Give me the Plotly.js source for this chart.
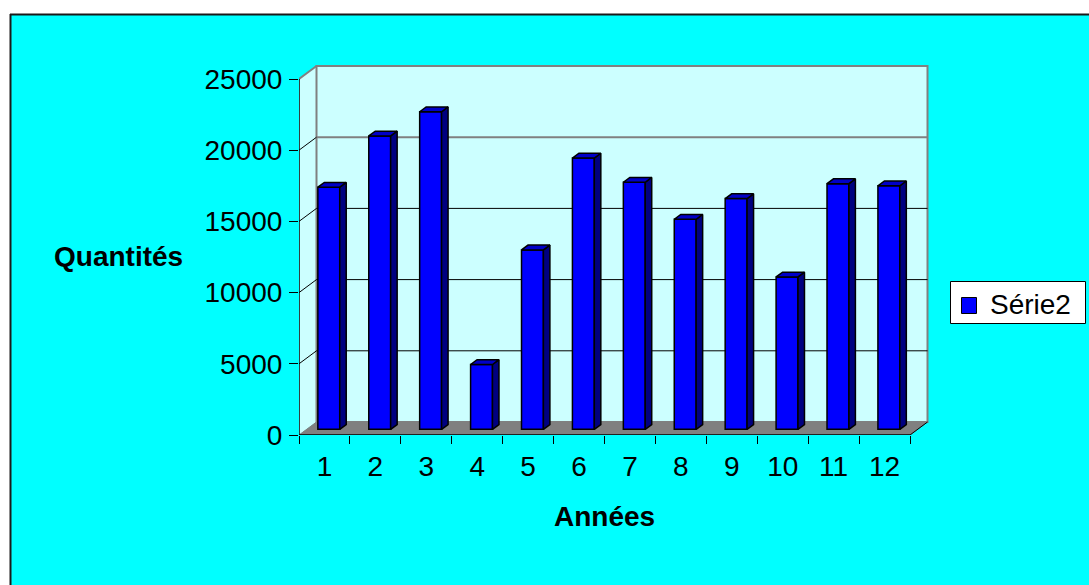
<!DOCTYPE html>
<html>
<head>
<meta charset="utf-8">
<script src="https://cdn.plot.ly/plotly-3.0.1.min.js"></script>
<style>html,body{margin:0;padding:0;background:#fff;}#chart{width:1089px;height:585px;}</style>
</head>
<body>
<div id="chart"></div>
<script>
// ---- data ----
const categories = [1, 2, 3, 4, 5, 6, 7, 8, 9, 10, 11, 12];
const tickLabels = ['1','2','3','4','5','6','7','8','9','10','11','12'];
const values = [17000, 20600, 22300, 4550, 12600, 19050, 17350, 14750, 16200, 10700, 17250, 17100];
const yTicks = [0, 5000, 10000, 15000, 20000, 25000];
const seriesName = 'Série2';

// ---- layout geometry ----
const L = 299, R = 159, T = 62, B = 150, WW = 1089, HH = 585;
const PW = WW - L - R, PH = HH - T - B;
const pxPerX = 611 / 12;          // px per category
const pxPerY = 356 / 25000;       // px per unit
const xmin = 0.5, xmax = 0.5 + PW / pxPerX;
const ymax = PH / pxPerY;
const DX = 17.5 / pxPerX, DY = 13 / pxPerY;        // wall depth
const OFF = 0.085, BW = 0.43;                      // bar offset/width
const BASE = 5.7 / pxPerY;                         // bar base depth
const DDX = 6.5 / pxPerX, DDY = 4.8 / pxPerY;      // bar depth
const px = v => (v - L) / PW;
const py = v => (HH - B - v) / PH;

const FONT = 'Arial, "Liberation Sans", sans-serif';
const FS = 28;

// ---- traces ----
const bars = {
  type: 'bar', name: seriesName, showlegend: false,
  x: categories.map(c => c + OFF), y: values, base: values.map(() => BASE),
  width: BW,
  marker: {color: '#0000FF', line: {color: '#000000', width: 1.5}},
  hoverinfo: 'skip'
};
const sx = [], sy = [], tx = [], ty = [];
categories.forEach((c, i) => {
  const xl = c + OFF - BW / 2, xr = c + OFF + BW / 2, top = BASE + values[i];
  sx.push(xr, xr + DDX, xr + DDX, xr, xr, null);
  sy.push(BASE, BASE + DDY, top + DDY, top, BASE, null);
  tx.push(xl, xr, xr + DDX, xl + DDX, xl, null);
  ty.push(top, top, top + DDY, top + DDY, top, null);
});
const sides = {type: 'scatter', mode: 'lines', x: sx, y: sy, fill: 'toself', fillcolor: '#000080',
  line: {color: '#000000', width: 1.5}, showlegend: false, hoverinfo: 'skip'};
const tops = {type: 'scatter', mode: 'lines', x: tx, y: ty, fill: 'toself', fillcolor: '#0000C8',
  line: {color: '#000000', width: 1.5}, showlegend: false, hoverinfo: 'skip'};

// ---- walls / floor ----
const x0 = 0.5, x1 = 12.5;
const shapes = [];
shapes.push({type: 'path', xref: 'x', yref: 'y', layer: 'below',
  path: `M${x0},0 L${x0},25000 L${x0 + DX},${25000 + DY} L${x0 + DX},${DY} Z`,
  fillcolor: '#CCFFFF', line: {width: 0}});
shapes.push({type: 'rect', xref: 'x', yref: 'y', layer: 'below',
  x0: x0 + DX, x1: x1 + DX, y0: DY, y1: 25000 + DY,
  fillcolor: '#CCFFFF', line: {color: '#808080', width: 2}});
shapes.push({type: 'path', xref: 'x', yref: 'y', layer: 'below',
  path: `M${x0},0 L${x1},0 L${x1 + DX},${DY} L${x0 + DX},${DY} Z`,
  fillcolor: '#808080', line: {color: '#808080', width: 1}});
yTicks.forEach(v => {
  if (v > 0 && v < 25000) {
    const col = v === 20000 ? '#808080' : '#000000';
    const w = v === 20000 ? 2 : 1;
    shapes.push({type: 'line', xref: 'x', yref: 'y', layer: 'below',
      x0: x0 + DX, x1: x1 + DX, y0: v + DY, y1: v + DY, line: {color: col, width: w}});
  }
  if (v > 0) {
    shapes.push({type: 'line', xref: 'x', yref: 'y', layer: 'below',
      x0: x0, x1: x0 + DX, y0: v, y1: v + DY,
      line: {color: v === 25000 ? '#808080' : '#000000', width: v === 25000 ? 2 : 1}});
  }
});
shapes.push({type: 'line', xref: 'x', yref: 'y', x0: x0, x1: x0, y0: 0, y1: 25000, line: {color: '#000', width: 1.5}});
shapes.push({type: 'line', xref: 'x', yref: 'y', x0: x0, x1: x1, y0: 0, y1: 0, line: {color: '#000', width: 1.5}});
shapes.push({type: 'line', xref: 'x', yref: 'y', x0: x1, x1: x1 + DX, y0: 0, y1: DY, line: {color: '#000', width: 1}});
// outer frame
shapes.push({type: 'rect', xref: 'paper', yref: 'paper', x0: px(0), x1: px(WW), y0: py(14), y1: py(0),
  fillcolor: '#FFFFFF', line: {width: 0}});
shapes.push({type: 'rect', xref: 'paper', yref: 'paper', x0: px(0), x1: px(10), y0: py(HH), y1: py(0),
  fillcolor: '#FFFFFF', line: {width: 0}});
shapes.push({type: 'line', xref: 'paper', yref: 'paper', x0: px(10.5), x1: px(10.5), y0: py(14), y1: py(HH),
  line: {color: '#1a1a1a', width: 2}});
shapes.push({type: 'line', xref: 'paper', yref: 'paper', x0: px(10), x1: px(WW), y0: py(14.5), y1: py(14.5),
  line: {color: '#1a1a1a', width: 2}});
// legend box and key
shapes.push({type: 'rect', xref: 'paper', yref: 'paper', x0: px(950.5), x1: px(1085.5), y0: py(323.5), y1: py(281.5),
  fillcolor: '#FFFFFF', line: {color: '#000000', width: 1}});
shapes.push({type: 'rect', xref: 'paper', yref: 'paper', x0: px(961.5), x1: px(976.5), y0: py(313.5), y1: py(297.5),
  fillcolor: '#0000FF', line: {color: '#000000', width: 1}});

const layout = {
  width: WW, height: HH,
  margin: {l: L, r: R, t: T, b: B, pad: 0},
  paper_bgcolor: '#00FFFF', plot_bgcolor: 'rgba(0,0,0,0)',
  font: {family: FONT, size: FS, color: '#000'},
  showlegend: false,
  xaxis: {range: [xmin, xmax], autorange: false, tickmode: 'array',
    tickvals: categories, ticktext: tickLabels, ticks: '', showgrid: false,
    zeroline: false, showline: false, fixedrange: true, ticklabelstandoff: 12,
    tickfont: {family: FONT, size: FS, color: '#000'},
    minor: {tickmode: 'array', tickvals: categories.map(c => c - 0.5).concat([12.5]),
      ticks: 'outside', ticklen: 8, tickcolor: '#000', tickwidth: 1, showgrid: false}},
  yaxis: {range: [0, ymax], autorange: false, tickmode: 'array', tickvals: yTicks,
    ticktext: yTicks.map(String), ticks: 'outside', ticklen: 9, tickcolor: '#000', tickwidth: 1,
    showgrid: false, zeroline: false, showline: false, fixedrange: true,
    ticklabelstandoff: 1,
    tickfont: {family: FONT, size: FS, color: '#000'}},
  shapes: shapes,
  annotations: [
    {text: '<b>Quantités</b>', xref: 'paper', yref: 'paper', x: px(118.7), y: py(256.7),
      xanchor: 'center', yanchor: 'middle', showarrow: false, font: {family: FONT, size: FS, color: '#000'}},
    {text: '<b>Années</b>', xref: 'paper', yref: 'paper', x: px(604), y: py(516),
      xanchor: 'center', yanchor: 'middle', showarrow: false, font: {family: FONT, size: FS, color: '#000'}},
    {text: seriesName, xref: 'paper', yref: 'paper', x: px(988), y: py(304),
      xanchor: 'left', yanchor: 'middle', showarrow: false, font: {family: FONT, size: FS, color: '#000'}}
  ]
};

Plotly.newPlot('chart', [bars, sides, tops], layout, {displayModeBar: false, staticPlot: true});
</script>
</body>
</html>
